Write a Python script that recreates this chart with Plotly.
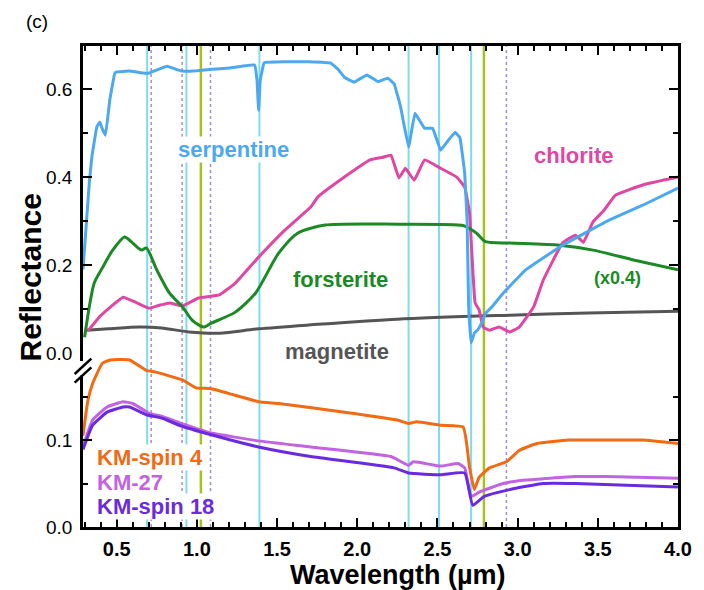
import plotly.graph_objects as go

# ---------------- data (upper panel) ----------------
serp_x = [0.29, 0.31, 0.33, 0.345, 0.376, 0.395, 0.41, 0.43, 0.457, 0.488, 0.50, 0.58, 0.64, 0.70, 0.76, 0.815,
          0.87, 0.91, 1.0, 1.094, 1.2, 1.30, 1.36, 1.375, 1.385, 1.395, 1.42, 1.55, 1.70, 1.835, 1.88, 1.92,
          1.98, 2.06, 2.13, 2.19, 2.23, 2.27, 2.32, 2.36, 2.42, 2.47, 2.52, 2.56, 2.61, 2.64, 2.67, 2.685,
          2.695, 2.71, 2.73, 2.75, 2.775, 2.80, 2.84, 2.91, 3.05, 3.28, 3.57, 3.78, 4.0]
serp_y = [0.19, 0.29, 0.39, 0.445, 0.514, 0.525, 0.51, 0.495, 0.575, 0.636, 0.639, 0.641, 0.638, 0.636, 0.645, 0.652,
          0.645, 0.641, 0.642, 0.645, 0.648, 0.653, 0.655, 0.62, 0.552, 0.62, 0.66, 0.662, 0.662, 0.659, 0.645, 0.627,
          0.616, 0.632, 0.617, 0.625, 0.612, 0.56, 0.468, 0.545, 0.511, 0.511, 0.461, 0.48, 0.502, 0.49, 0.409, 0.30,
          0.10, 0.023, 0.045, 0.052, 0.068, 0.09, 0.105, 0.136, 0.189, 0.245, 0.302, 0.336, 0.375]

chl_x = [0.32, 0.40, 0.54, 0.62, 0.70, 0.76, 0.83, 0.91, 1.01, 1.14, 1.24, 1.385, 1.55, 1.71, 1.755, 1.92, 2.08,
         2.16, 2.21, 2.26, 2.30, 2.355, 2.42, 2.52, 2.62, 2.67, 2.70, 2.735, 2.76, 2.785, 2.825, 2.885, 2.95, 3.01,
         3.10, 3.16, 3.28, 3.36, 3.41, 3.47, 3.54, 3.61, 3.78, 4.0]
chl_y = [0.05, 0.085, 0.127, 0.115, 0.102, 0.108, 0.114, 0.107, 0.125, 0.132, 0.159, 0.218, 0.28, 0.332, 0.355, 0.40, 0.439,
         0.445, 0.45, 0.398, 0.42, 0.393, 0.439, 0.42, 0.40, 0.377, 0.318, 0.114, 0.098, 0.059, 0.052, 0.059, 0.048, 0.059,
         0.105, 0.166, 0.25, 0.268, 0.252, 0.298, 0.325, 0.359, 0.382, 0.40]

fo_x = [0.30, 0.36, 0.41, 0.475, 0.55, 0.60, 0.655, 0.685, 0.75, 0.83, 0.91, 0.97, 1.04, 1.09, 1.24, 1.365,
        1.51, 1.63, 1.80, 2.25, 2.66, 2.70, 2.745, 2.80, 2.95, 3.26, 3.47, 3.73, 4.0]
fo_y = [0.036, 0.159, 0.193, 0.234, 0.264, 0.25, 0.234, 0.239, 0.189, 0.136, 0.105, 0.075, 0.059, 0.068, 0.093, 0.136,
        0.227, 0.273, 0.291, 0.293, 0.29, 0.283, 0.272, 0.253, 0.25, 0.245, 0.234, 0.211, 0.189]

mag_x = [0.31, 0.45, 0.64, 0.78, 0.95, 1.14, 1.385, 1.71, 2.25, 2.95, 3.44, 4.0]
mag_y = [0.052, 0.055, 0.059, 0.057, 0.048, 0.045, 0.055, 0.064, 0.077, 0.086, 0.091, 0.095]

# ---------------- data (lower panel) ----------------
km4_x = [0.29, 0.32, 0.35, 0.41, 0.46, 0.58, 0.685, 0.745, 0.91, 0.995, 1.09, 1.385, 1.51, 1.92, 2.25, 2.32,
         2.37, 2.52, 2.66, 2.70, 2.73, 2.76, 2.825, 2.93, 3.01, 3.12, 3.32, 3.57, 3.78, 4.0]
km4_y = [0.105, 0.145, 0.165, 0.188, 0.192, 0.192, 0.18, 0.178, 0.169, 0.16, 0.159, 0.144, 0.142, 0.132, 0.123, 0.119,
         0.121, 0.117, 0.115, 0.069, 0.043, 0.057, 0.068, 0.075, 0.088, 0.096, 0.10, 0.10, 0.10, 0.096]

km27_x = [0.29, 0.35, 0.44, 0.54, 0.60, 0.70, 0.785, 0.89, 1.09, 1.385, 1.71, 2.21, 2.32, 2.35, 2.52, 2.63, 2.67,
          2.71, 2.76, 2.91, 3.05, 3.36, 3.55, 4.0]
km27_y = [0.092, 0.123, 0.138, 0.144, 0.142, 0.131, 0.127, 0.12, 0.108, 0.099, 0.092, 0.081, 0.071, 0.075, 0.07, 0.073,
          0.068, 0.035, 0.040, 0.050, 0.054, 0.058, 0.058, 0.056]

km18_x = [0.29, 0.35, 0.44, 0.54, 0.58, 0.685, 0.785, 0.89, 1.09, 1.385, 1.71, 2.23, 2.32, 2.52, 2.67, 2.72, 2.79,
          2.95, 3.16, 3.36, 4.0]
km18_y = [0.089, 0.117, 0.132, 0.138, 0.138, 0.129, 0.125, 0.117, 0.106, 0.092, 0.081, 0.068, 0.062, 0.06, 0.062,
          0.025, 0.035, 0.043, 0.05, 0.05, 0.046]

# absorption band markers (wavelength, um)
cyan_bands = [0.69, 0.935, 1.39, 2.32, 2.51, 2.71]
olive_bands = [1.025, 2.79]
purple_bands = [0.715, 0.908, 1.085, 2.93]

x_ticks = [0.5, 1.0, 1.5, 2.0, 2.5, 3.0, 3.5, 4.0]
upper_ticks = [0.0, 0.2, 0.4, 0.6]
upper_minor = [0.1, 0.3, 0.5]
lower_ticks = [0.0, 0.1]
lower_minor = [0.05, 0.15]

C_SERP = "#4ca8ef"
C_CHL = "#df47a2"
C_FO = "#1b8a26"
C_MAG = "#555555"
C_KM4 = "#f26a12"
C_KM27 = "#c263e3"
C_KM18 = "#6a2ae0"

FONT = "Liberation Sans, Arial, sans-serif"

fig = go.Figure()

def add(x, y, color, xa, ya, smooth=None):
    line = dict(color=color, width=3)
    if smooth:
        line.update(shape="spline", smoothing=smooth)
    fig.add_trace(go.Scatter(x=x, y=y, mode="lines", line=line,
                             xaxis=xa, yaxis=ya, showlegend=False, hoverinfo="skip"))

add(mag_x, mag_y, C_MAG, "x2", "y2", 0.8)
add(chl_x, chl_y, C_CHL, "x2", "y2", 0.3)
add(fo_x, fo_y, C_FO, "x2", "y2", 0.7)
add(serp_x, serp_y, C_SERP, "x2", "y2", 0.2)
add(km4_x, km4_y, C_KM4, "x", "y", 0.4)
add(km27_x, km27_y, C_KM27, "x", "y", 0.4)
add(km18_x, km18_y, C_KM18, "x", "y", 0.4)

shapes = []
for b in cyan_bands:
    shapes.append(dict(type="line", xref="x", yref="paper", x0=b, x1=b, y0=0, y1=1,
                       line=dict(color="#7fdcef", width=2), layer="below"))
for b in olive_bands:
    shapes.append(dict(type="line", xref="x", yref="paper", x0=b, x1=b, y0=0, y1=1,
                       line=dict(color="#a6c21e", width=2.5), layer="below"))
for b in purple_bands:
    shapes.append(dict(type="line", xref="x", yref="paper", x0=b, x1=b, y0=0, y1=1,
                       line=dict(color="#a58ad8", width=1.5, dash="dot"), layer="below"))

# axis break mark on left axis
shapes.append(dict(type="rect", xref="paper", yref="paper", x0=-0.006, x1=0.006, y0=0.315, y1=0.345,
                   fillcolor="white", line=dict(width=0), layer="above"))
shapes.append(dict(type="line", xref="paper", yref="paper", x0=-0.014, x1=0.014, y0=0.300, y1=0.332,
                   line=dict(color="black", width=2.5), layer="above"))
shapes.append(dict(type="line", xref="paper", yref="paper", x0=-0.014, x1=0.014, y0=0.318, y1=0.350,
                   line=dict(color="black", width=2.5), layer="above"))

def lab(text, x, y, color, size=22, xanchor="center"):
    return dict(text="<b>" + text + "</b>", x=x, y=y, xref="paper", yref="paper", showarrow=False,
                font=dict(family=FONT, size=size, color=color), xanchor=xanchor, yanchor="middle",
                bgcolor="white", borderpad=0)

annotations = [
    lab("serpentine", 0.253, 0.784, C_SERP),
    lab("chlorite", 0.825, 0.773, C_CHL),
    lab("forsterite", 0.433, 0.514, C_FO),
    lab("magnetite", 0.427, 0.364, C_MAG),
    lab("(x0.4)", 0.898, 0.518, C_FO, size=18),
    lab("KM-spin 4", 0.022, 0.1455, C_KM4, xanchor="left"),
    lab("KM-27", 0.022, 0.0915, C_KM27, xanchor="left"),
    lab("KM-spin 18", 0.022, 0.0416, C_KM18, xanchor="left"),
    dict(text="(c)", x=-0.077, y=1.05, xref="paper", yref="paper", showarrow=False,
         font=dict(family=FONT, size=19, color="black"), xanchor="center", yanchor="middle"),
    dict(text="<b>Wavelength (µm)</b>", x=0.53, y=-0.1, xref="paper", yref="paper", showarrow=False,
         font=dict(family=FONT, size=27, color="black"), xanchor="center", yanchor="middle"),
    dict(text="<b>Reflectance</b>", x=-0.088, y=0.518, xref="paper", yref="paper", showarrow=False,
         textangle=-90, font=dict(family=FONT, size=30, color="black"), xanchor="center", yanchor="middle"),
]

axis_common = dict(showline=True, linecolor="black", linewidth=2.5, showgrid=False, zeroline=False,
                   ticks="inside", tickcolor="black", tickwidth=2)

fig.update_layout(
    width=704, height=590, margin=dict(l=83, r=21, t=46, b=63),
    paper_bgcolor="white", plot_bgcolor="white",
    font=dict(family=FONT, color="black"),
    shapes=shapes, annotations=annotations,
    xaxis=dict(**axis_common, domain=[0, 1], range=[0.29, 4.0], anchor="y", side="bottom",
               tickvals=x_ticks, tickformat=".1f", ticklen=9,
               tickfont=dict(family=FONT, size=20, weight="bold"), ticklabelstandoff=2,
               minor=dict(dtick=0.1, ticklen=5, tickwidth=2, ticks="inside", tickcolor="black")),
    xaxis2=dict(**axis_common, domain=[0, 1], range=[0.29, 4.0], anchor="y2", side="top", matches="x",
                tickvals=x_ticks, ticklen=9, showticklabels=False,
                minor=dict(dtick=0.1, ticklen=5, tickwidth=2, ticks="inside", tickcolor="black")),
    yaxis=dict(**axis_common, domain=[0, 0.3617], range=[0, 0.2], anchor="x", mirror="ticks",
               tickvals=lower_ticks, tickformat=".1f", ticklen=9,
               tickfont=dict(family=FONT, size=19), ticklabelstandoff=4,
               minor=dict(tickvals=lower_minor, ticklen=5, tickwidth=2, ticks="inside", tickcolor="black")),
    yaxis2=dict(**axis_common, domain=[0.3617, 1], range=[0, 0.698], anchor="x2", mirror="ticks",
                tickvals=upper_ticks, tickformat=".1f", ticklen=9,
                tickfont=dict(family=FONT, size=19), ticklabelstandoff=4,
                minor=dict(tickvals=upper_minor, ticklen=5, tickwidth=2, ticks="inside", tickcolor="black")),
)

fig.write_html("out.html")
